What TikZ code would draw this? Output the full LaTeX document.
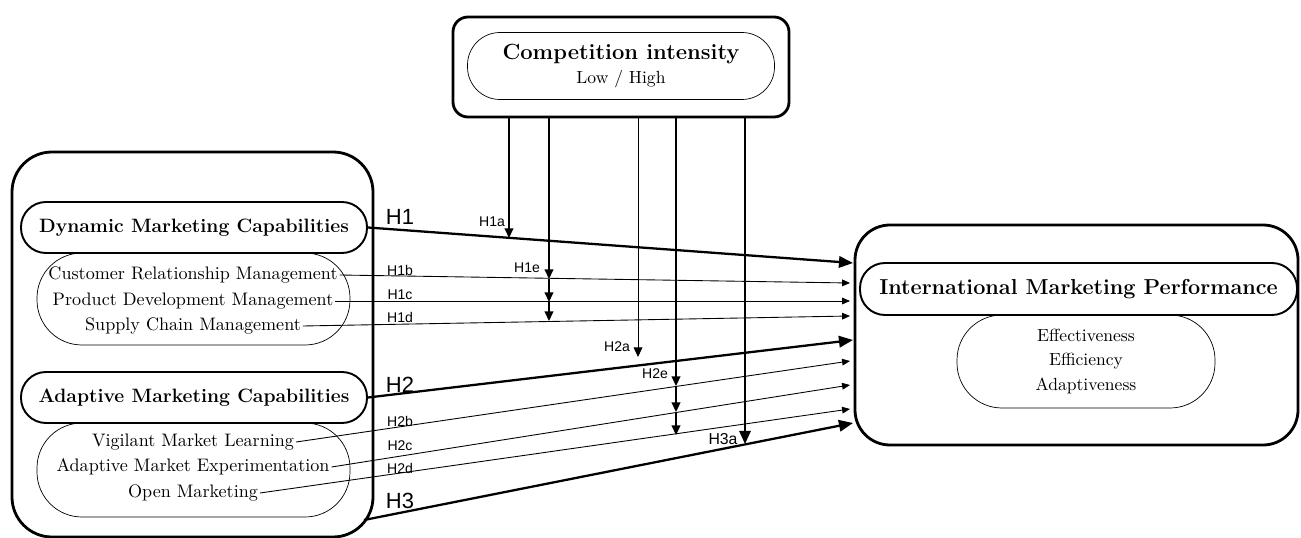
\documentclass[tikz,border=0pt]{standalone}
\usepackage{fontspec}
\newfontfamily\labelfont{Liberation Sans}
\usetikzlibrary{calc,arrows.meta}

\begin{document}
\begin{tikzpicture}[x=0.2mm, y=-0.2mm, >={Triangle[length=4.5pt, width=3.8pt]},
    frame/.style={draw, line width=1.6pt, inner sep=0pt},
    pill/.style={draw, line width=1.1pt, rounded corners=5mm, inner sep=0pt,
      font=\fontsize{11}{13}\selectfont\bfseries},
    facet/.style={draw, line width=0.4pt, rounded corners=9mm, inner sep=0pt},
    item/.style={inner sep=1pt, font=\fontsize{10.3}{12}\selectfont},
    hyp/.style={font=\labelfont\fontsize{8}{9}\selectfont, inner sep=0pt},
    bighyp/.style={font=\labelfont\fontsize{12.5}{14}\selectfont, inner sep=0pt},
    link/.style={->, line width=0.5pt},
    mainlink/.style={-{Triangle[length=8pt, width=6.5pt]}, line width=1.3pt}]

    % Page size (pixels of the reference)
    \useasboundingbox (0,0) rectangle (1301,538);

    % Moderator
    \node[frame, rounded corners=3mm, minimum width=67.2mm, minimum height=20mm] (cibox) at (621,67) {};
    \node[draw, line width=0.4pt, rounded corners=6.5mm, minimum width=61.4mm,
      minimum height=13.4mm, align=center] (ci) at (621,66)
      {{\fontsize{12.5}{14}\selectfont\bfseries Competition intensity}\\[2pt] Low / High};

    % Marketing capabilities
    \node[frame, rounded corners=8mm, minimum width=72.2mm, minimum height=77mm] (capbox) at (192.5,344.5) {};

    \node[pill, minimum width=69.2mm, minimum height=10.2mm] (dmc) at (194,227.5) {Dynamic Marketing Capabilities};
    \node[facet, minimum width=62.6mm, minimum height=18.4mm] (dmcsub) at (193.5,299) {};
    \node[item] (crm) at (193,275) {Customer Relationship Management};
    \node[item] (pdm) at (193,301) {Product Development Management};
    \node[item] (scm) at (193,326) {Supply Chain Management};

    \node[pill, minimum width=69.2mm, minimum height=10.2mm] (amc) at (194,397.5) {Adaptive Marketing Capabilities};
    \node[facet, minimum width=62.6mm, minimum height=18.8mm] (amcsub) at (193.5,470) {};
    \node[item] (vml) at (193,442) {Vigilant Market Learning};
    \node[item] (ame) at (193,467) {Adaptive Market Experimentation};
    \node[item] (om) at (193,493) {Open Marketing};

    % Performance
    \node[frame, rounded corners=7mm, minimum width=88.6mm, minimum height=44mm] (perfbox) at (1076.5,335) {};
    \node[pill, font=\fontsize{12.3}{14}\selectfont\bfseries, minimum width=87.4mm, minimum height=10.4mm]
      (imp) at (1078.5,289) {International Marketing Performance};
    \node[facet, minimum width=51.6mm, minimum height=18.6mm, align=center] (impsub) at (1086,361.5)
      {Effectiveness\\[2pt] Efficiency\\[2pt] Adaptiveness};

    % Arrow ends on the performance box
    \coordinate (eH1)  at (853,263);
    \coordinate (eH1b) at (850,283);
    \coordinate (eH1c) at (850,301);
    \coordinate (eH1d) at (850,316);
    \coordinate (eH2)  at (853,340);
    \coordinate (eH2b) at (850,361);
    \coordinate (eH2c) at (850,385);
    \coordinate (eH2d) at (850,409);
    \coordinate (eH3)  at (853,423);
    \coordinate (sH3)  at (364,520);

    % Direct effects
    \draw[mainlink] (dmc.east) -- (eH1);
    \draw[link] (crm.east) -- (eH1b);
    \draw[link] (pdm.east) -- (eH1c);
    \draw[link] (scm.east) -- (eH1d);
    \draw[mainlink] (amc.east) -- (eH2);
    \draw[link] (vml.east) -- (eH2b);
    \draw[link] (ame.east) -- (eH2c);
    \draw[link] (om.east) -- (eH2d);
    \draw[mainlink] (sH3) -- (eH3);

    % Moderating effects (tips sit on the paths)
    \coordinate (tH1a)  at (509,238);
    \coordinate (tH1e1) at (549,279);
    \coordinate (tH1e2) at (549,302);
    \coordinate (tH1e3) at (549,321);
    \coordinate (tH2a)  at (638,357);
    \coordinate (tH2e1) at (676,386);
    \coordinate (tH2e2) at (676,412);
    \coordinate (tH2e3) at (676,435);
    \coordinate (tH3a)  at (745,444);

    \draw[-{Triangle[length=5.5pt, width=5pt]}, line width=0.8pt] (cibox.south -| tH1a) -- (tH1a);
    \draw[-{Triangle[length=5.5pt, width=5pt]}, line width=0.8pt] (cibox.south -| tH1e1) -- (tH1e1);
    \draw[-{Triangle[length=5.5pt, width=5pt]}, line width=0.8pt] (tH1e1) -- (tH1e2);
    \draw[-{Triangle[length=5.5pt, width=5pt]}, line width=0.8pt] (tH1e2) -- (tH1e3);
    \draw[-{Triangle[length=5.5pt, width=5pt]}, line width=0.5pt] (cibox.south -| tH2a) -- (tH2a);
    \draw[-{Triangle[length=5.5pt, width=5pt]}, line width=1pt] (cibox.south -| tH2e1) -- (tH2e1);
    \draw[-{Triangle[length=5.5pt, width=5pt]}, line width=1pt] (tH2e1) -- (tH2e2);
    \draw[-{Triangle[length=5.5pt, width=5pt]}, line width=1pt] (tH2e2) -- (tH2e3);
    \draw[-{Triangle[length=7.5pt, width=6.5pt]}, line width=1.2pt] (cibox.south -| tH3a) -- (tH3a);

    % Hypothesis labels
    \node[bighyp] (lH1)  at (400,217) {H1};
    \node[hyp]    (lH1b) at (400,270) {H1b};
    \node[hyp]    (lH1c) at (400,295) {H1c};
    \node[hyp]    (lH1d) at (400,317) {H1d};
    \node[bighyp] (lH2)  at (400,385) {H2};
    \node[hyp]    (lH2b) at (400,421) {H2b};
    \node[hyp]    (lH2c) at (400,446) {H2c};
    \node[hyp]    (lH2d) at (400,468) {H2d};
    \node[bighyp] (lH3)  at (400,501) {H3};
    \node[hyp]    (lH1a) at (492,222) {H1a};
    \node[hyp]    (lH1e) at (527,268) {H1e};
    \node[hyp]    (lH2a) at (617,347) {H2a};
    \node[hyp]    (lH2e) at (655,374) {H2e};
    \node[hyp, font=\labelfont\fontsize{9}{10}\selectfont] (lH3a) at (723,439) {H3a};
\end{tikzpicture}
\end{document}
